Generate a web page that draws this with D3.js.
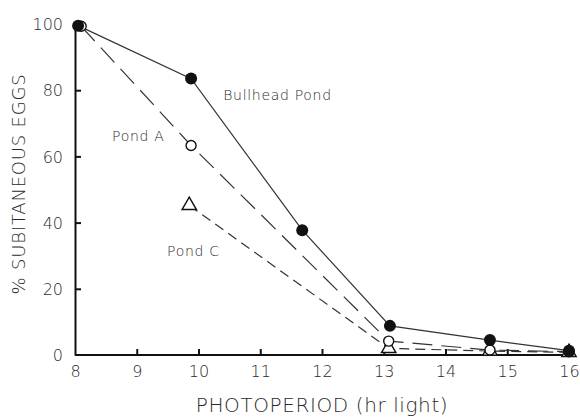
<!DOCTYPE html>
<meta charset="utf-8">
<style>
body { margin: 0; background: #fff; }
svg text { font-family: "DejaVu Sans", sans-serif; font-weight: 300; fill: #2a2a2a; }
.axis path, .axis line { stroke: #111; stroke-width: 2; }
.axis text { font-size: 16px; }
</style>
<body>
<script src="https://d3js.org/d3.v7.min.js"></script>
<script>
// data
var bullheadHours = [8.05, 9.88, 11.68, 13.1, 14.72, 16];
var bullheadPct   = [99.5, 83.5, 37.7, 8.8, 4.5, 1.3];

var pondAHours = [8.1, 9.88, 13.08, 14.72, 16];
var pondAPct   = [99.3, 63.3, 4.2, 1.5, 1.0];

var pondCHours = [9.85, 13.08, 14.72, 16];
var pondCPct   = [45.2, 2.0, 1.2, 0.8];

var xTicks = [8, 9, 10, 11, 12, 13, 14, 15, 16];
var yTicks = [0, 20, 40, 60, 80, 100];

var width = 580, height = 418;

var svg = d3.select("body").append("svg")
    .attr("width", width)
    .attr("height", height);

var x = d3.scaleLinear().domain([8, 16]).range([75, 569]);
var y = d3.scaleLinear().domain([0, 100]).range([355, 24]);

// x axis, ticks point up
var gx = svg.append("g")
    .attr("class", "axis")
    .attr("transform", "translate(0," + y(0) + ")")
    .call(d3.axisBottom(x).tickValues(xTicks).tickSizeInner(-6).tickSizeOuter(0).tickPadding(11));
gx.selectAll(".tick").filter(function(d) { return d == 8; }).select("line").remove();
gx.select(".domain").attr("d", "M" + x(8) + ",0H" + (x(16) + 3));

// y axis, ticks point right
var gy = svg.append("g")
    .attr("class", "axis")
    .attr("transform", "translate(" + x(8) + ",0)")
    .call(d3.axisLeft(y).tickValues(yTicks).tickSizeInner(-6).tickSizeOuter(0).tickPadding(12));
gy.selectAll(".tick").filter(function(d) { return d == 0 || d == 100; }).select("line").remove();
gy.selectAll("text").attr("dy", "0.36em");

svg.selectAll(".axis .domain").attr("fill", "none");

// axis titles
svg.append("text")
    .attr("x", 322).attr("y", 412)
    .attr("text-anchor", "middle")
    .style("font-size", "20px")
    .style("letter-spacing", "0.6px")
    .text("PHOTOPERIOD (hr light)");

svg.append("text")
    .attr("transform", "translate(25,184) rotate(-90)")
    .attr("text-anchor", "middle")
    .style("font-size", "18px")
    .style("letter-spacing", "0.8px")
    .text("% SUBITANEOUS EGGS");

var line = d3.line()
    .x(function(d) { return x(d[0]); })
    .y(function(d) { return y(d[1]); });

var pondC = d3.zip(pondCHours, pondCPct);
var pondA = d3.zip(pondAHours, pondAPct);
var bullhead = d3.zip(bullheadHours, bullheadPct);

svg.append("path").datum(pondC)
    .attr("d", line)
    .attr("fill", "none").attr("stroke", "#333").attr("stroke-width", 1.2)
    .attr("stroke-dasharray", "10,6");

svg.append("path").datum(pondA)
    .attr("d", line)
    .attr("fill", "none").attr("stroke", "#333").attr("stroke-width", 1.2)
    .attr("stroke-dasharray", "20,9");

svg.append("path").datum(bullhead)
    .attr("d", line)
    .attr("fill", "none").attr("stroke", "#333").attr("stroke-width", 1.2);

// markers
svg.selectAll(".tri").data(pondC).enter().append("path")
    .attr("class", "tri")
    .attr("transform", function(d) { return "translate(" + x(d[0]) + "," + y(d[1]) + ")"; })
    .attr("d", d3.symbol(d3.symbolTriangle, 90))
    .attr("fill", "#fff").attr("stroke", "#111").attr("stroke-width", 1.4);

svg.selectAll(".open").data(pondA).enter().append("circle")
    .attr("class", "open")
    .attr("cx", function(d) { return x(d[0]); })
    .attr("cy", function(d) { return y(d[1]); })
    .attr("r", 5)
    .attr("fill", "#fff").attr("stroke", "#111").attr("stroke-width", 1.4);

svg.selectAll(".filled").data(bullhead).enter().append("circle")
    .attr("class", "filled")
    .attr("cx", function(d) { return x(d[0]); })
    .attr("cy", function(d) { return y(d[1]); })
    .attr("r", 6)
    .attr("fill", "#111");

// series labels
svg.append("text").attr("x", x(10.4)).attr("y", y(78.5)).attr("dy", "0.35em")
    .style("font-size", "14px").style("letter-spacing", "0.7px").text("Bullhead Pond");
svg.append("text").attr("x", x(8.6)).attr("y", y(66)).attr("dy", "0.35em")
    .style("font-size", "14px").style("letter-spacing", "0.7px").text("Pond A");
svg.append("text").attr("x", x(9.49)).attr("y", y(31.4)).attr("dy", "0.35em")
    .style("font-size", "14px").style("letter-spacing", "0.7px").text("Pond C");
</script>
</body>
